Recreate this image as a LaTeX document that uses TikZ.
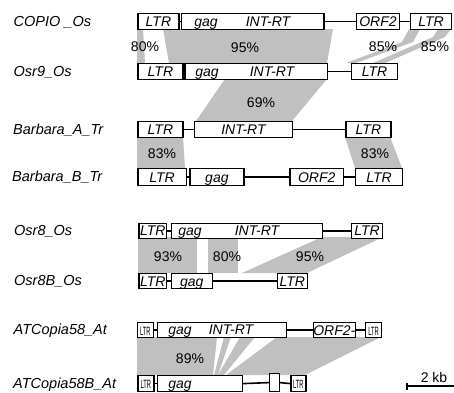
\documentclass[tikz,border=0pt]{standalone}
\usepackage{fontspec}
\setmainfont{Liberation Sans}
\definecolor{bandgray}{RGB}{192,192,192}
\tikzset{
  box/.style={draw, fill=white, line width=1.2pt, inner sep=0pt, text height=10pt, text depth=0pt, font=\fontsize{14}{14}\selectfont\itshape},
  lnk/.style={line width=1.6pt},
  band/.style={fill=bandgray},
  nm/.style={anchor=west, inner sep=0pt, text height=10.5pt, text depth=0pt, font=\fontsize{14.5}{14.5}\selectfont\itshape},
  bt/.style={inner sep=0pt, text height=10pt, text depth=0pt, font=\fontsize{14}{14}\selectfont\itshape},
  pc/.style={inner sep=0pt, text height=10pt, text depth=0pt, font=\fontsize{14}{14}\selectfont}
}
\newcommand\mybox[6]{%
  \pgfmathsetmacro\bw{#3-#2}\pgfmathsetmacro\bh{#5-#4}%
  \node[box,minimum width=\bw pt,minimum height=\bh pt,anchor=north west] (#1) at (#2,#4) {#6};}
\newcommand\sltr{\scalebox{0.48}[1]{\upshape\fontsize{12}{12}\selectfont LTR}}
\begin{document}
\begin{tikzpicture}[x=1pt,y=-1pt]
\useasboundingbox (0,0) rectangle (454,392);
% ---------- bands ----------
% COPIO -> Osr9
\fill[band] (137,29) -- (143,29) -- (145,63) -- (137,63) -- cycle;
\fill[band] (163,29) -- (333,29) -- (327,63) -- (169,63) -- cycle;
\fill[band] (409,29) -- (420,29) -- (413,42) -- (356,63) -- (346,63) -- (402,42) -- cycle;
\fill[band] (438,29) -- (451,29) -- (445,37) -- (385,63) -- (373,63) -- (433,37) -- cycle;
% Osr9 -> Barbara_A
\fill[band] (225,79) -- (327,79) -- (292,121) -- (196,121) -- cycle;
% Barbara_A -> Barbara_B
\fill[band] (137,137) -- (183,137) -- (185,168) -- (137,168) -- cycle;
\fill[band] (345,137) -- (390,137) -- (402,168) -- (355,168) -- cycle;
% Osr8 -> Osr8B
\fill[band] (138,237) rectangle (197,273);
\fill[band] (208,237) rectangle (238,273);
\fill[band] (322,237) -- (383,237) -- (307,273) -- (242,273) -- cycle;
% ATCopia58 -> ATCopia58B
\fill[band] (137,337) -- (217,337) -- (213,375) -- (137,375) -- cycle;
\fill[band] (224,337) -- (231,337) -- (218,375) -- (214,375) -- cycle;
\fill[band] (240,337) -- (255,337) -- (224,375) -- (218,375) -- cycle;
\fill[band] (277,337) -- (381,337) -- (305,375) -- (226,375) -- cycle;
% ---------- names ----------
\node[nm] (n1) at (13.5,21) {COPIO \_Os};
\node[nm] (n2) at (13.5,71) {Osr9\_Os};
\node[nm] (n3) at (13,129) {Barbara\_A\_Tr};
\node[nm] (n4) at (12,176.5) {Barbara\_B\_Tr};
\node[nm] (n5) at (14,230) {Osr8\_Os};
\node[nm] (n6) at (14,280.5) {Osr8B\_Os};
\node[nm] (n7) at (13.5,329.5) {ATCopia58\_At};
\node[nm] (n8) at (13,383) {ATCopia58B\_At};
% ---------- row 1 COPIO ----------
\mybox{a1}{137.3}{178.3}{13}{29}{LTR}
\mybox{a2}{180.7}{323.3}{13}{29}{}
\mybox{a3}{356}{398.7}{13}{29}{ORF2}
\mybox{a4}{409.7}{451}{13}{29}{LTR}
\node[bt] (a2g) at (206,21) {gag};
\node[bt] (a2i) at (268,21) {INT-RT};
\draw[lnk] (a1.east) -- (a2.west);
\draw[lnk] (a2.east) -- (a3.west);
\draw[lnk] (a3.east) -- (a4.west);
% ---------- row 2 Osr9 ----------
\mybox{b1}{137.3}{182.3}{63}{79}{LTR}
\mybox{b2}{184.3}{327}{63}{79}{}
\mybox{b3}{351}{397}{63}{79}{LTR}
\node[bt] (b2g) at (207,71) {gag};
\node[bt] (b2i) at (272,71) {INT-RT};
\draw[lnk] (b1.east) -- (b2.west);
\draw[lnk] (b2.east) -- (b3.west);
% ---------- row 3 Barbara_A ----------
\mybox{c1}{137.3}{182.3}{121}{137}{LTR}
\mybox{c2}{194}{291.7}{121}{137}{INT-RT}
\mybox{c3}{345.3}{390.3}{121}{137}{LTR}
\draw[lnk] (c1.east) -- (c2.west);
\draw[lnk] (c2.east) -- (c3.west);
% ---------- row 4 Barbara_B ----------
\mybox{d1}{137.3}{185.7}{168}{185}{LTR}
\mybox{d2}{189.3}{243.3}{168}{185}{gag}
\mybox{d3}{289.3}{343}{168}{185}{ORF2}
\mybox{d4}{354.7}{402}{168}{185}{LTR}
\draw[lnk] (d1.east) -- (d2.west);
\draw[lnk] (d2.east) -- (d3.west);
\draw[lnk] (d3.east) -- (d4.west);
% ---------- row 5 Osr8 ----------
\mybox{e1}{138.3}{166}{223}{237.5}{LTR}
\mybox{e2}{170.7}{321.7}{223}{237.5}{}
\mybox{e3}{351}{382}{223}{237.5}{LTR}
\node[bt] (e2g) at (190,230) {gag};
\node[bt] (e2i) at (257,230) {INT-RT};
\draw[lnk] (e1.east) -- (e2.west);
\draw[lnk] (e2.east) -- (e3.west);
% ---------- row 6 Osr8B ----------
\mybox{f1}{138.3}{166}{273}{288}{LTR}
\mybox{f2}{170.7}{211.7}{273}{288}{gag}
\mybox{f3}{276.7}{306.7}{273}{288}{LTR}
\draw[lnk] (f1.east) -- (f2.west);
\draw[lnk] (f2.east) -- (f3.west);
% ---------- row 7 ATCopia58 ----------
\mybox{g1}{136.7}{152.7}{322}{337}{\sltr}
\mybox{g2}{156.7}{286}{322}{337}{}
\mybox{g3}{312.7}{354}{322}{337}{ORF2-}
\mybox{g4}{365}{381}{322}{337}{\sltr}
\node[bt] (g2g) at (180,329.5) {gag};
\node[bt] (g2i) at (231,329.5) {INT-RT};
\draw[lnk] (g1.east) -- (g2.west);
\draw[lnk] (g2.east) -- (g3.west);
\draw[lnk] (g3.east) -- (g4.west);
% ---------- row 8 ATCopia58B ----------
\mybox{h1}{137.3}{153.3}{375}{391}{\sltr}
\mybox{h2}{156.7}{241.7}{375}{391}{}
\mybox{h3}{269}{278.7}{373}{391}{}
\mybox{h4}{290.3}{305.3}{375}{391}{\sltr}
\node[bt] (h2g) at (180,383) {gag};
\draw[lnk] (h1.east) -- (h2.west);
\draw[lnk] (h2.east) -- (h3.west);
\draw[lnk] (h3.east) -- (h4.west);
% ---------- percentages ----------
\node[pc] (p1) at (145,46.5) {80\%};
\node[pc] (p2) at (245,47) {95\%};
\node[pc] (p3) at (383,46) {85\%};
\node[pc] (p4) at (435,46) {85\%};
\node[pc] (p5) at (261,102) {69\%};
\node[pc] (p6) at (162,153) {83\%};
\node[pc] (p7) at (375,153) {83\%};
\node[pc] (p8) at (168,256.5) {93\%};
\node[pc] (p9) at (227,256.5) {80\%};
\node[pc] (p10) at (310,256) {95\%};
\node[pc] (p11) at (190,358) {89\%};
% ---------- scale bar ----------
\coordinate (s1) at (407,386);
\coordinate (s2) at (454,386);
\coordinate (s1t) at (407,382.5);
\coordinate (s1b) at (407,390);
\draw[line width=1.6pt] (s1) -- (s2);
\draw[line width=1.4pt] (s1t) -- (s1b);
\node[pc] (sbl) at (434,377) {2 kb};
\end{tikzpicture}
\end{document}
